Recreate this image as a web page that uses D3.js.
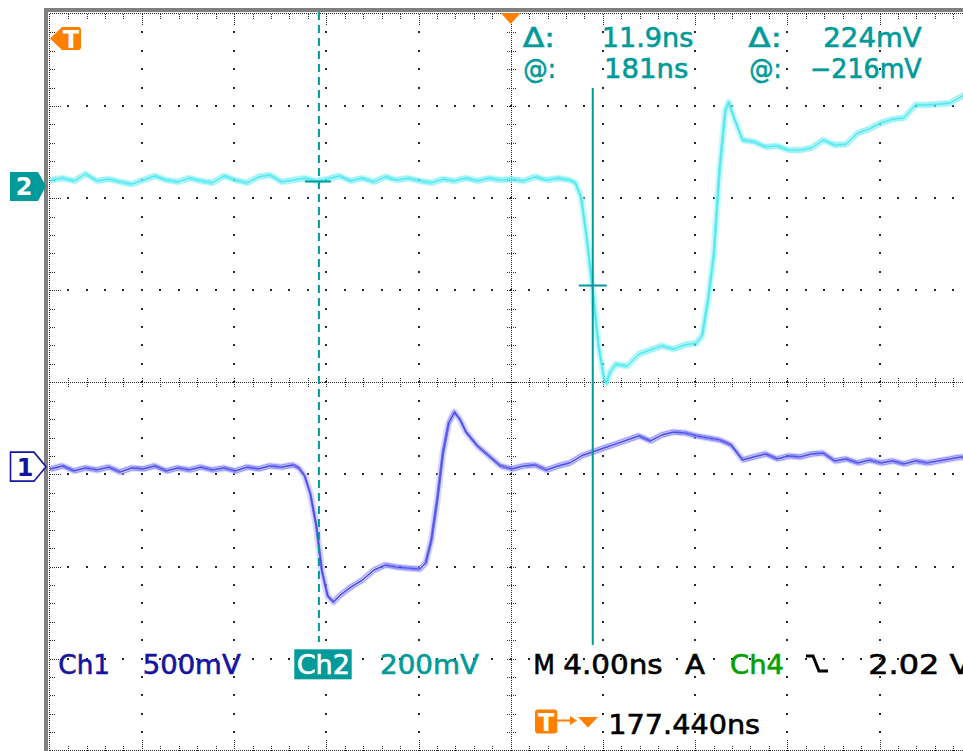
<!DOCTYPE html>
<html><head><meta charset="utf-8">
<script src="https://cdn.jsdelivr.net/npm/d3@7"></script>
<style>
html,body{margin:0;padding:0;background:#fff;}
svg{display:block;}
text{font-family:"DejaVu Sans",sans-serif;}
</style></head><body>
<svg id="c" width="963" height="751"></svg>
<script>
// ---------------- DATA ----------------
// Channel 2 (cyan), 200 mV/div
const ch2TimeNs = [157.44,157.5,158,158.5,159,159.5,160,160.5,161,161.5,162,162.5,163,163.5,164,164.5,165,165.5,166,166.5,167,167.5,168,168.5,169,169.5,170,170.5,171,171.5,172,172.5,173,173.5,174,174.5,175,175.5,176,176.5,177,177.5,178,178.5,179,179.5,180,
  180.25,180.5,180.75,181,181.25,181.5,181.6,181.75,182,182.5,183,183.5,184,184.5,185,185.5,185.75,186,186.25,186.5,186.75,186.9,187.1,
  187.5,188,188.5,189,189.5,190,190.5,191,191.5,192,192.5,193,193.5,194,194.5,195,195.5,196,196.5,197,197.44];
const ch2mV = [11,13,17,11,26,11,15,9,4,13,22,13,9,17,11,7,22,13,7,20,24,9,13,17,11,15,22,11,17,9,20,13,17,11,7,15,11,17,11,17,13,15,11,20,13,17,13,
  7,-26,-117,-226,-347,-421,-428,-404,-387,-391,-365,-356,-347,-354,-345,-341,-324,-248,-150,35,163,182,152,
  100,96,85,87,78,78,83,100,89,91,115,124,137,145,148,176,176,178,180,195,200];

// Channel 1 (blue), 500 mV/div
const ch1TimeNs = [157.44,157.5,158,158.5,159,159.5,160,160.5,161,161.5,162,162.5,163,163.5,164,164.5,165,165.5,166,166.5,167,167.5,168,
  168.25,168.5,168.75,169,169.25,169.5,169.75,170,170.5,171,171.5,172,172.5,173,173.5,173.75,174,174.25,174.5,174.75,175,175.25,175.5,
  176,176.5,177,177.5,178,178.5,179,179.5,180,180.5,181,181.5,182,182.5,183,183.5,184,184.5,185,185.5,186,186.5,187,187.5,188,188.5,189,189.5,190,190.5,191,191.5,192,192.5,193,193.5,194,194.5,195,195.5,196,196.5,197,197.44];
const ch1mV = [-7,-12,4,-23,-7,-18,-2,-29,-7,-12,4,-23,-7,-18,-2,-18,-7,-23,-2,-12,4,-2,9,
  -7,-50,-148,-317,-566,-702,-735,-702,-654,-616,-562,-534,-545,-551,-556,-523,-398,-181,74,237,297,254,188,
  112,58,4,-12,4,9,-18,4,20,58,80,102,123,145,167,140,172,188,183,167,156,145,118,37,53,69,42,58,53,69,74,31,42,20,36,20,31,15,31,20,31,42,53,26];

// Settings / readouts
const timePerDivNs = 4.0, triggerDelayNs = 177.44;
const ch1VoltsPerDiv = 500, ch1OffsetDiv = -0.916;
const ch2VoltsPerDiv = 200, ch2OffsetDiv = 2.131;
const cursorTimesNs = [169.12, 181.0];
const cursorLevelsMv = [9.8, -216];
const readoutLabels = ["Δ:", "11.9ns", "Δ:", "224mV", "@:", "181ns", "@:", "−216mV"];
const bottomLabels = ["Ch1", "500mV", "Ch2", "200mV", "M", "4.00ns", "A", "Ch4", "2.02 V", "177.440ns"];

// ---------------- LAYOUT ----------------
const X0 = 49.7, DX = 92.2, Y0 = 13.9, DY = 92.1;
const svg = d3.select('#c');
const xDiv = d3.scaleLinear().domain([0, 10]).range([X0, X0 + 10 * DX]);
const yDiv = d3.scaleLinear().domain([4, -4]).range([Y0, Y0 + 8 * DY]);
const x = d3.scaleLinear().domain([triggerDelayNs - 5 * timePerDivNs, triggerDelayNs + 5 * timePerDivNs]).range([X0, X0 + 10 * DX]);
const y1 = d3.scaleLinear().domain([(-4 - ch1OffsetDiv) * ch1VoltsPerDiv, (4 - ch1OffsetDiv) * ch1VoltsPerDiv]).range([yDiv(-4), yDiv(4)]);
const y2 = d3.scaleLinear().domain([(-4 - ch2OffsetDiv) * ch2VoltsPerDiv, (4 - ch2OffsetDiv) * ch2VoltsPerDiv]).range([yDiv(-4), yDiv(4)]);

const teal = '#009a9a', navy = '#1414a0', green = '#00a000', orange = '#ff7f00', dotC = '#262626';

svg.append('rect').attr('width', 963).attr('height', 751).attr('fill', '#fff');
// frame
svg.append('rect').attr('x', 44).attr('y', 8).attr('width', 919).attr('height', 4).attr('fill', '#808080');
svg.append('rect').attr('x', 44).attr('y', 8).attr('width', 4).attr('height', 743).attr('fill', '#808080');

// graticule
const g = svg.append('g').attr('shape-rendering', 'crispEdges');
const dots = [];
for (let i = 1; i < 10; i++) { if (i === 5) continue; for (let j = 1; j < 40; j++) dots.push([xDiv(i), yDiv(4 - j / 5)]); }
for (let k = -3; k <= 3; k++) { if (k === 0) continue; for (let j = 1; j < 50; j++) dots.push([xDiv(j / 5), yDiv(k)]); }
g.selectAll('rect.dot').data(dots).join('rect').attr('class', 'dot')
  .attr('x', d => Math.round(d[0]) - 1).attr('y', d => Math.round(d[1]) - 1)
  .attr('width', 2).attr('height', 2).attr('fill', dotC);

function dl(x1, y1_, x2, y2_) {
  g.append('line').attr('x1', x1).attr('y1', y1_).attr('x2', x2).attr('y2', y2_)
    .attr('stroke', dotC).attr('stroke-width', 1).attr('stroke-dasharray', '1,1');
}
const cx = Math.round(xDiv(5)) + 0.5, cy = Math.round(yDiv(0)) + 0.5;
const topY = 13.5, leftX = 49.5, botY = 750.5;
dl(cx, topY, cx, 751); dl(leftX, cy, 963, cy);
dl(leftX, topY, 963, topY); dl(leftX, topY, leftX, 751); dl(leftX, botY, 963, botY);
for (let j = 1; j < 40; j++) {
  const py = Math.round(yDiv(4 - j / 5)) + 0.5;
  const major = j % 5 === 0;
  dl(cx - 5, py, cx + 5, py);
  dl(leftX, py, leftX + (major ? 11 : 6), py);
}
for (let j = 1; j < 50; j++) {
  const px = Math.round(xDiv(j / 5)) + 0.5;
  const major = j % 5 === 0;
  dl(px, cy - 5, px, cy + 5);
  dl(px, topY, px, topY + (major ? 11 : 6));
  dl(px, botY, px, botY - (major ? 11 : 6));
}

// traces
svg.append('clipPath').attr('id', 'clip').append('rect').attr('x', X0).attr('y', Y0).attr('width', 963 - X0).attr('height', 751 - Y0);
const tr = svg.append('g').attr('clip-path', 'url(#clip)');
function trace(times, vals, ys, halo, core) {
  const pts = times.map((t, i) => [x(t), ys(vals[i])]);
  const line = d3.line();
  tr.append('path').attr('d', line(pts)).attr('fill', 'none').attr('stroke', halo).attr('stroke-width', 7).attr('stroke-opacity', 0.55).attr('stroke-linejoin', 'round');
  [-2, -0.8, 0.8, 2].forEach((dy, k) => tr.append('path').attr('d', line(pts)).attr('transform', `translate(${k % 2 ? 0.8 : -0.8},${dy})`).attr('fill', 'none').attr('stroke', core).attr('stroke-width', 1).attr('stroke-opacity', 0.45).attr('stroke-linejoin', 'round'));
  tr.append('path').attr('d', line(pts)).attr('fill', 'none').attr('stroke', core).attr('stroke-width', 1.3).attr('stroke-opacity', 0.85).attr('stroke-linejoin', 'round');
}
trace(ch2TimeNs, ch2mV, y2, '#a6f4f8', '#3fe6ee');
trace(ch1TimeNs, ch1mV, y1, '#bcbcff', '#3c3cea');

// cursors
const c1x = x(cursorTimesNs[0]), c2x = x(cursorTimesNs[1]);
svg.append('line').attr('x1', c1x).attr('x2', c1x).attr('y1', 12).attr('y2', 642).attr('stroke', teal).attr('stroke-width', 2).attr('stroke-dasharray', '8,5');
svg.append('line').attr('x1', c2x).attr('x2', c2x).attr('y1', 88).attr('y2', 645).attr('stroke', teal).attr('stroke-width', 2);
svg.append('line').attr('x1', c1x - 14).attr('x2', c1x + 12).attr('y1', y2(cursorLevelsMv[0])).attr('y2', y2(cursorLevelsMv[0])).attr('stroke', teal).attr('stroke-width', 2);
svg.append('line').attr('x1', c2x - 14).attr('x2', c2x + 14).attr('y1', y2(cursorLevelsMv[1])).attr('y2', y2(cursorLevelsMv[1])).attr('stroke', teal).attr('stroke-width', 2);

// markers
const g2y = y2(0), g1y = y1(0);
svg.append('path').attr('d', `M10,${g2y - 14} H38 L46,${g2y} L38,${g2y + 15} H10 Z`).attr('fill', teal);
svg.append('text').attr('x', 24).attr('y', g2y + 9).attr('text-anchor', 'middle').attr('fill', '#fff').attr('font-size', 24).attr('font-weight', 'bold').text('2');
svg.append('path').attr('d', `M10.5,${g1y - 14.5} H34 L46,${g1y} L34,${g1y + 14.5} H10.5 Z`).attr('fill', '#fff').attr('stroke', navy).attr('stroke-width', 1.6);
svg.append('text').attr('x', 25).attr('y', g1y + 9).attr('text-anchor', 'middle').attr('fill', navy).attr('font-size', 24).attr('font-weight', 'bold').text('1');
// trigger level marker
svg.append('path').attr('d', 'M50,38.5 L62,27 H78 Q81,27 81,30 V47 Q81,50 78,50 H62 Z').attr('fill', orange);
svg.append('text').attr('x', 71).attr('y', 47.5).attr('text-anchor', 'middle').attr('fill', '#fff').attr('font-size', 24).attr('font-weight', 'bold').text('T');
// trigger position marker
const tpx = x(triggerDelayNs);
svg.append('path').attr('d', `M${tpx - 10},13 H${tpx + 10} L${tpx},24 Z`).attr('fill', orange);

// readout texts
function txt(s, x0, w, base, color) {
  svg.append('text').attr('x', x0).attr('y', base).attr('fill', color).attr('stroke', color).attr('stroke-width', 0.6)
    .attr('font-size', 26).attr('textLength', w).attr('lengthAdjust', 'spacingAndGlyphs').text(s);
}
const ro = [[522.7, 32.3, 47], [601.7, 91.6, 47], [748.3, 33.4, 47], [823.3, 98.4, 47], [523.3, 32.7, 77.5], [604, 84.3, 77.5], [749.3, 32.4, 77.5], [810, 111.7, 77.5]];
readoutLabels.forEach((s, i) => txt(s, ro[i][0], ro[i][1], ro[i][2], teal));

svg.append('rect').attr('x', 294.3).attr('y', 649.3).attr('width', 57.4).attr('height', 30).attr('fill', teal);
const bl = [[58.3, 51.7, 674, navy], [142.7, 98, 674, navy], [296.7, 53.3, 674, '#fff'], [380, 99, 674, teal],
  [533.3, 21.7, 674, '#000'], [563.3, 99.4, 674, '#000'], [685, 20, 674, '#000'], [730, 54, 674, green], [868.3, 103, 674, '#000'], [608.3, 151.7, 733.5, '#000']];
bottomLabels.forEach((s, i) => txt(s, bl[i][0], bl[i][1], bl[i][2], bl[i][3]));
// falling edge symbol
svg.append('path').attr('d', 'M806,656 H813 L819,671 H828').attr('fill', 'none').attr('stroke', '#000').attr('stroke-width', 3);
// bottom trigger delay icon
svg.append('rect').attr('x', 535).attr('y', 709.5).attr('width', 22.3).attr('height', 24).attr('rx', 3).attr('fill', orange);
svg.append('text').attr('x', 546.2).attr('y', 731).attr('text-anchor', 'middle').attr('fill', '#fff').attr('font-size', 24).attr('font-weight', 'bold').text('T');
svg.append('line').attr('x1', 557).attr('x2', 572).attr('y1', 720.5).attr('y2', 720.5).attr('stroke', orange).attr('stroke-width', 2);
svg.append('path').attr('d', 'M570,716 L577,720.5 L570,725 Z').attr('fill', orange);
svg.append('path').attr('d', 'M578,717 H598 L588,727.5 Z').attr('fill', orange);
</script></body></html>
